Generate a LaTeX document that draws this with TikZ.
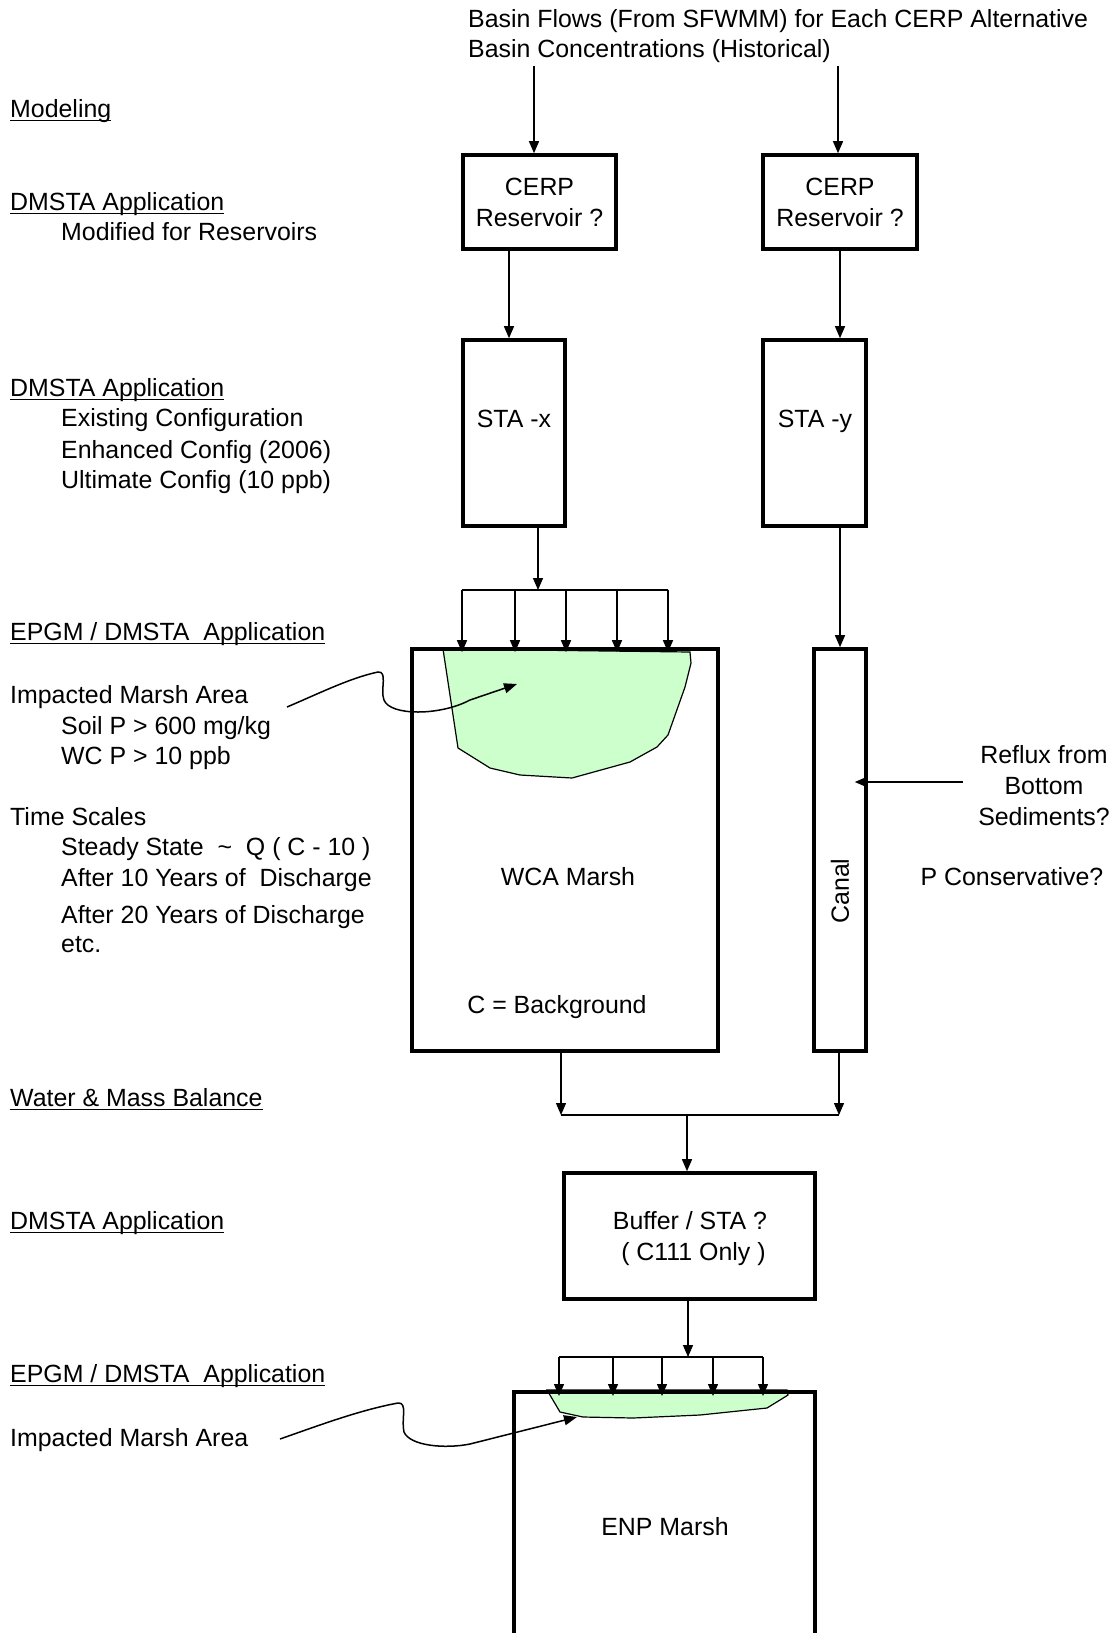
\documentclass[tikz,border=0pt]{standalone}
\usepackage{amsmath}
\usepackage{fontspec}
\setmainfont{Liberation Sans}
\usepackage{tikz}
\usetikzlibrary{arrows.meta,positioning,calc}
\definecolor{marshgreen}{HTML}{CCFFCC}
\newcommand{\hdline}[1]{\underline{\smash[b]{#1}}}
\tikzset{
  boxnode/.style={draw=black, line width=3.6pt, align=center, inner sep=0pt},
  flowarr/.style={-{Triangle[length=12pt,width=10pt]}, draw=black, line width=1.3pt},
  ptrarr/.style={-{Triangle[length=13pt,width=10pt]}, draw=black, line width=1.5pt},
  barline/.style={draw=black, line width=1.3pt},
  lab/.style={anchor=base west, inner sep=0pt, align=left},
  txt/.style={inner sep=0pt, align=center},
  marsh/.style={fill=marshgreen, draw=black, line width=1.2pt},
}

\begin{document}
\begin{tikzpicture}[x=1pt,y=-1pt,font=\fontsize{24.9}{31}\selectfont]
\useasboundingbox[fill=white] (0,0) rectangle (1115,1633);
\draw[marsh] (443,649) -- (690,652) -- (691,663) -- (685,687) -- (668,735) -- (657,747)
  -- (630,762) -- (572,778) -- (520,775) -- (490,768) -- (458,748) -- cycle;
\draw[marsh] (547,1390) -- (787,1390) -- (788,1395) -- (780,1400) -- (767,1408)
  -- (700,1415) -- (633,1418) -- (583,1417) -- (560,1412) -- cycle;
\node[lab] (flows) at (468,27) {Basin Flows (From SFWMM) for Each CERP Alternative};
\node[lab] (conc) at (468,57) {Basin Concentrations (Historical)};
\node[lab] (hmodel) at (10,117) {\hdline{Modeling}};
\node[lab] (hres) at (10,210) {\hdline{DMSTA Application}};
\node[lab] (tres) at (61,240) {Modified for Reservoirs};
\node[lab] (hsta) at (10,396) {\hdline{DMSTA Application}};
\node[lab] (tsta1) at (61,426) {Existing Configuration};
\node[lab] (tsta2) at (61,458) {Enhanced Config (2006)};
\node[lab] (tsta3) at (61,488) {Ultimate Config (10 ppb)};
\node[lab] (hwca) at (10,640) {\hdline{EPGM / DMSTA\ \ Application}};
\node[lab] (impA) at (10,703) {Impacted Marsh Area};
\node[lab] (soil) at (61,734) {Soil P > 600 mg/kg};
\node[lab] (wcp) at (61,764) {WC P > 10 ppb};
\node[lab] (tscale) at (10,825) {Time Scales};
\node[lab] (tsteady) at (61,855) {Steady State\ \ \textasciitilde\ \ Q ( C - 10 )};
\node[lab] (t10) at (61,886) {After 10 Years of\ \ Discharge};
\node[lab] (t20) at (61,923) {After 20 Years of Discharge};
\node[lab] (tetc) at (61,952) {etc.};
\node[lab] (hbal) at (10,1106) {\hdline{Water \& Mass Balance}};
\node[lab] (hbuf) at (10,1229) {\hdline{DMSTA Application}};
\node[lab] (henp) at (10,1382) {\hdline{EPGM / DMSTA\ \ Application}};
\node[lab] (impB) at (10,1446) {Impacted Marsh Area};
\node[boxnode, minimum width=153pt, minimum height=94pt] (cerpA) at (539.5,202) {CERP\\Reservoir ?};
\node[boxnode, minimum width=154pt, minimum height=94pt] (cerpB) at (840,202) {CERP\\Reservoir ?};
\node[boxnode, minimum width=102pt, minimum height=186pt] (staX) at (514,433) {};
\node[txt, anchor=base] (staXlab) at (514,427) {STA -x};
\node[boxnode, minimum width=103pt, minimum height=186pt] (staY) at (814.5,433) {};
\node[txt, anchor=base] (staYlab) at (815,427) {STA -y};
\node[boxnode, minimum width=306pt, minimum height=402pt] (wca) at (565,850) {};
\node[txt] (wcalab) at (568,877) {WCA Marsh};
\node[txt] (bglab) at (557,1007) {C = Background};
\node[boxnode, minimum width=52pt, minimum height=402pt] (canal) at (840,850) {};
\node[txt, rotate=90] (canallab) at (840,891) {Canal};
\node[txt] (refluxlab) at (1044,786) {Reflux from\\Bottom\\Sediments?};
\node[txt] (pcons) at (1012,877) {P Conservative?};
\node[boxnode, minimum width=251pt, minimum height=126pt] (buffer) at (689.5,1236) {};
\node[txt] (bufferlab) at (690,1239) {Buffer / STA ?\\\ ( C111 Only )};
\node[boxnode, minimum width=301pt, minimum height=300pt, anchor=north] (enp) at (664.5,1390) {};
\node[txt] (enplab) at (665,1527) {ENP Marsh};
\coordinate (srcA) at (534,66);
\coordinate (srcB) at (838,66);
\draw[flowarr] (srcA) -- (srcA |- cerpA.north);
\draw[flowarr] (srcB) -- (srcB |- cerpB.north);
\draw[flowarr] ($(cerpA.south)+(-30.5,0)$) -- ($(staX.north)+(-5,0)$);
\draw[flowarr] (cerpB.south) -- (cerpB.south |- staY.north);
\coordinate (wbarIn) at (538,590);
\coordinate (wa1) at (462,590);
\coordinate (wa2) at (515,590);
\coordinate (wa3) at (566,590);
\coordinate (wa4) at (617,590);
\coordinate (wa5) at (668,590);
\draw[flowarr] (staX.south -| wbarIn) -- (wbarIn);
\draw[barline] (wa1) -- (wa5);
\draw[flowarr] (wa1) -- ($(wa1 |- wca.north)+(0,5)$);
\draw[flowarr] (wa2) -- ($(wa2 |- wca.north)+(0,5)$);
\draw[flowarr] (wa3) -- ($(wa3 |- wca.north)+(0,5)$);
\draw[flowarr] (wa4) -- ($(wa4 |- wca.north)+(0,5)$);
\draw[flowarr] (wa5) -- ($(wa5 |- wca.north)+(0,5)$);
\draw[flowarr] (staY.south -| canal.north) -- (canal.north);
\coordinate (refsrc) at (963,782);
\draw[flowarr] (refsrc) -- ($(refsrc -| canal.east)+(-13,0)$);
\coordinate (mergeL) at (561,1115);
\coordinate (mergeR) at (839,1115);
\coordinate (mergeM) at (687,1115);
\draw[flowarr] (wca.south -| mergeL) -- (mergeL);
\draw[flowarr] (canal.south -| mergeR) -- (mergeR);
\draw[barline] (mergeL) -- (mergeR);
\draw[flowarr] (mergeM) -- (mergeM |- buffer.north);
\coordinate (ebarIn) at (688,1357);
\coordinate (ea1) at (559,1357);
\coordinate (ea2) at (613,1357);
\coordinate (ea3) at (662,1357);
\coordinate (ea4) at (713,1357);
\coordinate (ea5) at (763,1357);
\draw[flowarr] (buffer.south -| ebarIn) -- (ebarIn);
\draw[barline] (ea1) -- (ea5);
\draw[flowarr] (ea1) -- ($(ea1 |- enp.north)+(0,6)$);
\draw[flowarr] (ea2) -- ($(ea2 |- enp.north)+(0,6)$);
\draw[flowarr] (ea3) -- ($(ea3 |- enp.north)+(0,6)$);
\draw[flowarr] (ea4) -- ($(ea4 |- enp.north)+(0,6)$);
\draw[flowarr] (ea5) -- ($(ea5 |- enp.north)+(0,6)$);
\coordinate (ptrA) at (287,707);
\coordinate (tipA) at (517,684);
\draw[ptrarr] (ptrA) .. controls (320,693) and (350,678) .. (378,672)
  .. controls (388,671) and (380,690) .. (384,700)
  .. controls (390,716) and (440,716) .. (470,700) -- (tipA);
\coordinate (ptrB) at (280,1439);
\coordinate (tipB) at (577,1417);
\draw[ptrarr] (ptrB) .. controls (320,1425) and (360,1410) .. (398,1403)
  .. controls (408,1402) and (401,1420) .. (404,1432)
  .. controls (410,1446) and (445,1449) .. (470,1444) -- (tipB);
\end{tikzpicture}
\end{document}
